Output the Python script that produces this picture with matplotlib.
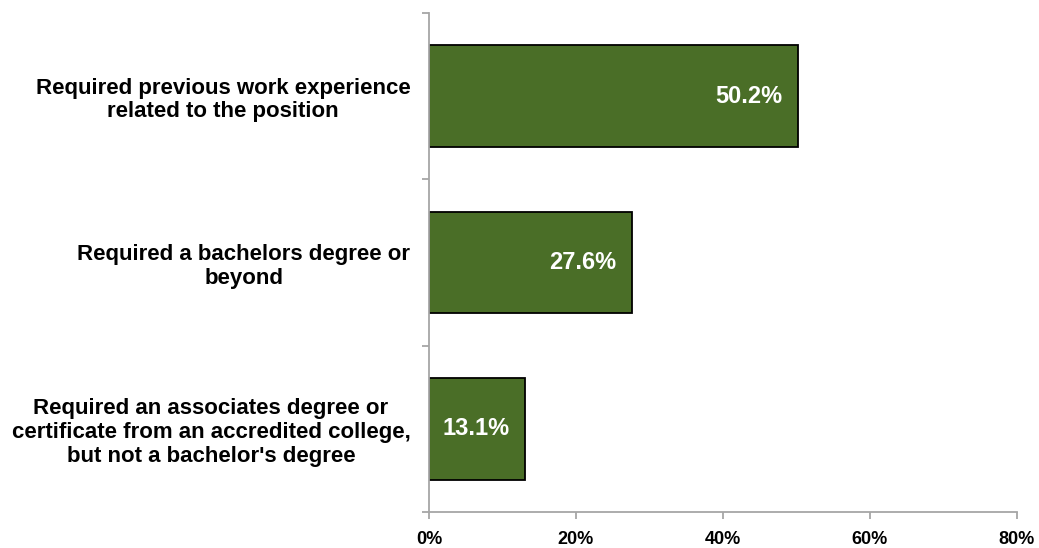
import matplotlib.pyplot as plt
from matplotlib.ticker import FixedLocator

categories = [
    "Required previous work experience\nrelated to the position",
    "Required a bachelors degree or\nbeyond",
    "Required an associates degree or\ncertificate from an accredited college,\nbut not a bachelor's degree",
]
values = [50.2, 27.6, 13.1]
x_ticks = [0, 20, 40, 60, 80]

plt.rcParams['font.family'] = ['Liberation Sans', 'DejaVu Sans']
plt.rcParams['font.weight'] = 'bold'

fig = plt.figure(figsize=(10.39, 5.48), dpi=100)
ax = fig.add_axes([0.4129, 0.0657, 0.5659, 0.9106])

pos = list(range(len(categories)))
bars = ax.barh(pos, values, height=0.61, color='#4A6E27',
               edgecolor='black', linewidth=1.3)

# value labels sit inside the end of each bar
for b, v in zip(bars, values):
    ax.annotate(f"{v:.1f}%", xy=(b.get_width(), b.get_y() + b.get_height() / 2),
                xytext=(-11, 0), textcoords='offset points',
                ha='right', va='center', color='white',
                fontsize=17, fontweight='bold')

ax.set_xlim(0, 80)
ax.set_ylim(2.5, -0.5)
ax.set_xticks(x_ticks)
ax.set_xticklabels([f"{t}%" for t in x_ticks], fontsize=13, fontweight='bold')

ax.set_yticks(pos)
ax.set_yticklabels(categories, fontsize=16, fontweight='bold',
                   ha='right', multialignment='center', linespacing=1.17)
ax.yaxis.set_minor_locator(FixedLocator([-0.5, 0.5, 1.5, 2.5]))

for s in ['top', 'right']:
    ax.spines[s].set_visible(False)
for s in ['left', 'bottom']:
    ax.spines[s].set_color('#A6A6A6')
    ax.spines[s].set_linewidth(1.3)

ax.tick_params(axis='y', which='major', length=0, pad=13.5)
ax.tick_params(axis='y', which='minor', length=5, width=1.3, color='#A6A6A6')
ax.tick_params(axis='x', length=5, width=1.3, color='#A6A6A6', pad=9)

fig.savefig('out.png', dpi=100)
